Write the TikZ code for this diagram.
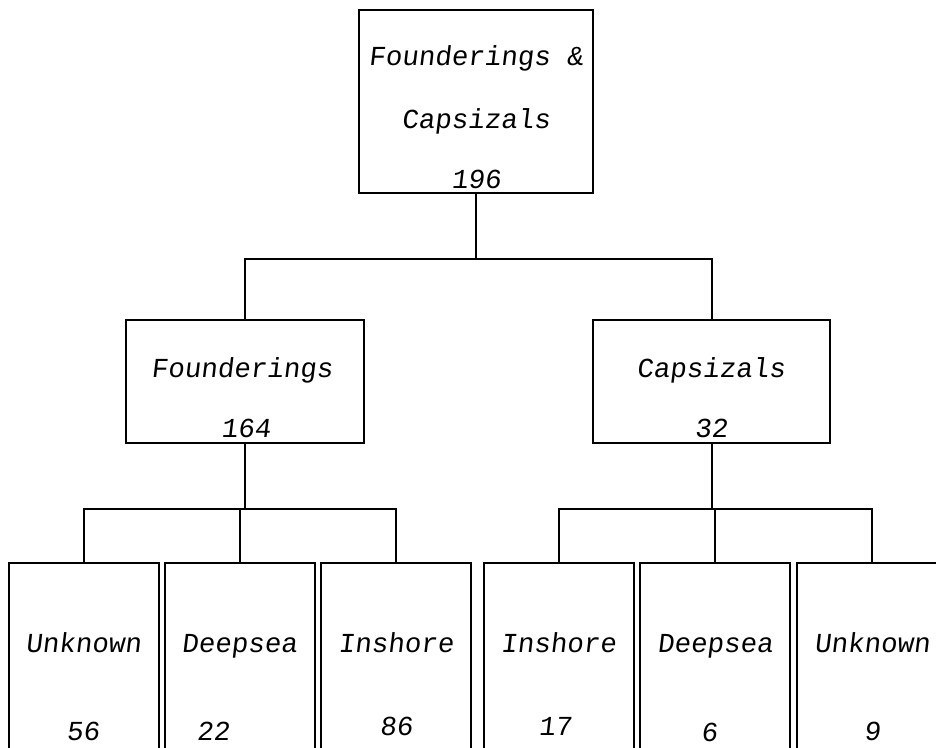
\documentclass[tikz,border=0pt]{standalone}
\usepackage{fontspec}
\setmainfont{Liberation Mono}[FakeSlant=0.12]
\begin{document}
\begin{tikzpicture}[x=1pt, y=-1pt, line width=2pt,
  box/.style={draw, rectangle, inner sep=0pt},
  leaf/.style={box, minimum width=150pt, minimum height=200pt},
  lbl/.style={anchor=base, inner sep=0pt, font=\fontsize{27.5}{30}\selectfont}]
\useasboundingbox (0,0) rectangle (936,747);
\clip (0,0) rectangle (936,747);
% Top box
\node[box, minimum width=234pt, minimum height=183pt] (all) at (476,101.5) {};
\node[lbl] (allA) at (476,65) {Founderings \&};
\node[lbl] (allB) at (476,128) {Capsizals};
\node[lbl] (allN) at (476,188) {196};
% Second level
\node[box, minimum width=238pt, minimum height=123pt] (fnd) at (245,381.5) {};
\node[box, minimum width=237pt, minimum height=123pt] (cap) at (711.5,381.5) {};
\node[lbl] (fndA) at (242,377) {Founderings};
\node[lbl] (fndN) at (246,437) {164};
\node[lbl] (capA) at (711,377) {Capsizals};
\node[lbl] (capN) at (711,437) {32};
% Leaves (cut off at the bottom)
\foreach \name/\cx in {fu/83.5, fd/239.5, fi/396, ci/558.5, cd/715, cu/872}
  \node[leaf] (\name) at (\cx,663) {};
\foreach \name/\txt in {fu/Unknown, fd/Deepsea, fi/Inshore, ci/Inshore, cd/Deepsea, cu/Unknown}
  \node[lbl] (\name A) at (\name.center |- 0,652) {\txt};
\node[lbl] (fuN) at (83,740) {56};
\node[lbl] (fdN) at (213,740) {22};
\node[lbl] (fiN) at (396,735) {86};
\node[lbl] (ciN) at (555,735) {17};
\node[lbl] (cdN) at (709,741) {6};
\node[lbl] (cuN) at (872,740) {9};
% Connectors
\draw (all.south) -- ++(0,65) -| (fnd.north);
\draw (all.south) -- ++(0,65) -| (cap.north);
\foreach \leaf in {fu,fd,fi}
  \draw (fnd.south) -- ++(0,65) -| (\leaf.north);
\foreach \leaf in {ci,cd,cu}
  \draw (cap.south) -- ++(0,65) -| (\leaf.north);
\end{tikzpicture}
\end{document}
